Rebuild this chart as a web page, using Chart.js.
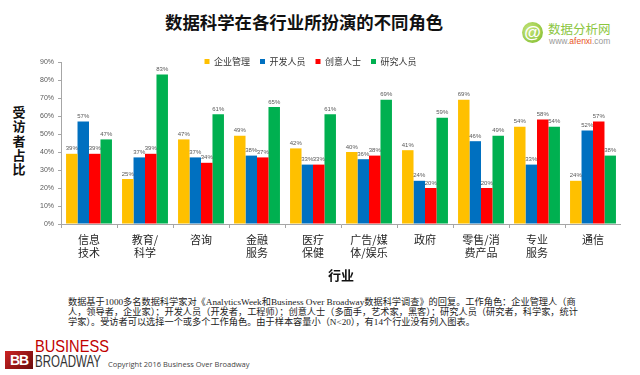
<!DOCTYPE html>
<html>
<head>
<meta charset="utf-8">
<script src="https://cdn.jsdelivr.net/npm/chart.js@4/dist/chart.umd.min.js"></script>
<style>
  html, body { margin: 0; padding: 0; background: #fff; }
  body { width: 640px; height: 375px; position: relative; overflow: hidden; font-family: "Noto Sans CJK SC", sans-serif; }
  #title { position: absolute; left: 165px; top: 12px; font-size: 17.4px; font-weight: 700; line-height: 20px; color: #111; white-space: nowrap; }
  #ytitle { position: absolute; left: 12px; top: 105px; width: 14px; font-size: 13px; font-weight: 700; line-height: 14.3px; text-align: center; color: #111; }
  #chart { position: absolute; left: 0; top: 47px; }
  #note { position: absolute; left: 68px; top: 298px; font-family: "Liberation Serif", "Noto Sans CJK SC", serif; font-size: 9.2px; line-height: 9.9px; color: #222; white-space: nowrap; }
  #brand-logo { position: absolute; left: 522px; top: 22px; width: 21px; height: 21px; border-radius: 50%; background: radial-gradient(circle at 35% 35%, #c6e47a, #7dbb2a); color: #fff; font: 700 17px/21px "Liberation Sans", sans-serif; text-align: center; }
  #brand-name { position: absolute; left: 548px; top: 22px; font-size: 12.5px; line-height: 14px; color: #8cc63f; white-space: nowrap; }
  #brand-url { position: absolute; left: 549px; top: 36px; font: 8.5px/10px "Liberation Sans", sans-serif; color: #9a9a9a; white-space: nowrap; }
  #brand-url b { color: #e8541e; font-weight: 400; }
  #bb-box { position: absolute; left: 5px; top: 351px; width: 28px; height: 18px; background: linear-gradient(135deg, #c22 0%, #6b0d0d 100%); color: #fff; font: 700 14px/18px "Liberation Sans", sans-serif; text-align: center; letter-spacing: -1px; }
  #bb-business { position: absolute; left: 35px; top: 337px; font: 17px/20px "Liberation Sans Narrow", "Liberation Sans", sans-serif; color: #c00000; transform: scaleX(0.86); transform-origin: left top; white-space: nowrap; }
  #bb-broadway { position: absolute; left: 35px; top: 353px; font: 16px/18px "Liberation Sans Narrow", "Liberation Sans", sans-serif; color: #333; transform: scaleX(0.72); transform-origin: left top; white-space: nowrap; }
  #copyright { position: absolute; left: 108px; top: 359px; font: 7.5px/10px "Open Sans", sans-serif; color: #444; white-space: nowrap; }
</style>
</head>
<body>
<div id="title">数据科学在各行业所扮演的不同角色</div>
<div id="brand-logo">@</div>
<div id="brand-name">数据分析网</div>
<div id="brand-url">www.<b>afenxi</b>.com</div>
<div id="ytitle">受<br>访<br>者<br>占<br>比</div>
<canvas id="chart" width="621" height="245"></canvas>
<div id="note">数据基于1000多名数据科学家对《AnalyticsWeek和Business Over Broadway数据科学调查》的回复。工作角色：企业管理人（商<br>人，领导者，企业家）；开发人员（开发者，工程师）；创意人士（多面手，艺术家，黑客）；研究人员（研究者，科学家，统计<br>学家）。受访者可以选择一个或多个工作角色。由于样本容量小（N&lt;20），有14个行业没有列入图表。</div>
<div id="bb-box">BB</div>
<div id="bb-business">BUSINESS</div>
<div id="bb-broadway">BROADWAY</div>
<div id="copyright">Copyright 2016 Business Over Broadway</div>

<script>
// categories (industries), multi-line labels as in the original
const industries = [
    ['信息', '技术'], ['教育/', '科学'], '咨询', ['金融', '服务'], ['医疗', '保健'],
    ['广告/媒', '体/娱乐'], '政府', ['零售/消', '费产品'], ['专业', '服务'], '通信'
];
const roles = ['企业管理', '开发人员', '创意人士', '研究人员'];

// share of respondents, %
const mgmtValues     = [39, 25, 47, 49, 42, 40, 41, 69, 54, 24];
const devValues      = [57, 37, 37, 38, 33, 36, 24, 46, 33, 52];
const creativeValues = [39, 39, 34, 37, 33, 38, 20, 20, 58, 57];
const researchValues = [47, 83, 61, 65, 61, 69, 59, 49, 54, 38];

const yTickLabels = ['0%', '10%', '20%', '30%', '40%', '50%', '60%', '70%', '80%', '90%'];

const roleColors = ['#FFC000', '#0070C0', '#FF0000', '#00B050'];

Chart.defaults.font.family = '"Noto Sans CJK SC", "Liberation Sans", sans-serif';

// value labels above each bar
const barLabels = {
    id: 'barLabels',
    afterDatasetsDraw(chart) {
        const ctx = chart.ctx;
        ctx.save();
        ctx.font = '6px "Liberation Sans", sans-serif';
        ctx.fillStyle = '#595959';
        ctx.textAlign = 'center';
        ctx.textBaseline = 'bottom';
        chart.data.datasets.forEach(function(ds, i) {
            chart.getDatasetMeta(i).data.forEach(function(bar, j) {
                ctx.fillText(ds.data[j] + '%', bar.x, bar.y - 2);
            });
        });
        ctx.restore();
    }
};

// legend sits level with the top gridline instead of taking its own row
const legendInline = {
    id: 'legendInline',
    beforeLayout(chart) {
        const legend = chart.legend;
        if (legend && !legend._inline) {
            const fit = legend.fit;
            legend.fit = function() {
                fit.call(this);
                this.height = 15;
            };
            legend._inline = true;
        }
    },
    afterLayout(chart) {
        const legend = chart.legend;
        if (legend) {
            legend.height = 40;
            legend.bottom = legend.top + 40;
        }
    }
};

const datasets = [mgmtValues, devValues, creativeValues, researchValues].map(function(values, i) {
    return {
        label: roles[i],
        data: values,
        backgroundColor: roleColors[i],
        borderWidth: 0,
        categoryPercentage: 0.82,
        barPercentage: 1.0
    };
});

new Chart(document.getElementById('chart'), {
    type: 'bar',
    data: { labels: industries, datasets: datasets },
    options: {
        responsive: false,
        animation: false,
        devicePixelRatio: 1,
        layout: { padding: 0 },
        plugins: {
            legend: {
                position: 'top',
                labels: {
                    boxWidth: 5,
                    boxHeight: 5,
                    padding: 10,
                    color: '#333',
                    font: { size: 9 }
                }
            },
            tooltip: { enabled: false }
        },
        scales: {
            x: {
                afterFit(axis) { axis.height = 68; },
                grid: { drawOnChartArea: false, tickLength: 4, color: '#a6a6a6' },
                border: { color: '#a6a6a6' },
                ticks: {
                    autoSkip: false,
                    maxRotation: 0,
                    padding: 5,
                    color: '#262626',
                    font: { size: 11, lineHeight: 1.2 }
                },
                title: {
                    display: true,
                    text: '行业',
                    color: '#111',
                    font: { size: 13, weight: 'bold' },
                    padding: { top: 0, bottom: 9 }
                }
            },
            y: {
                min: 0,
                max: 90,
                afterFit(axis) { axis.width = 61; },
                grid: { drawOnChartArea: false, tickLength: 3, color: '#a6a6a6' },
                border: { color: '#a6a6a6' },
                ticks: {
                    stepSize: 10,
                    padding: 4,
                    color: '#595959',
                    font: { family: '"Liberation Sans", sans-serif', size: 7 },
                    callback: function(value) { return yTickLabels[Math.round(value / 10)]; }
                }
            }
        }
    },
    plugins: [barLabels, legendInline]
});
</script>
</body>
</html>
